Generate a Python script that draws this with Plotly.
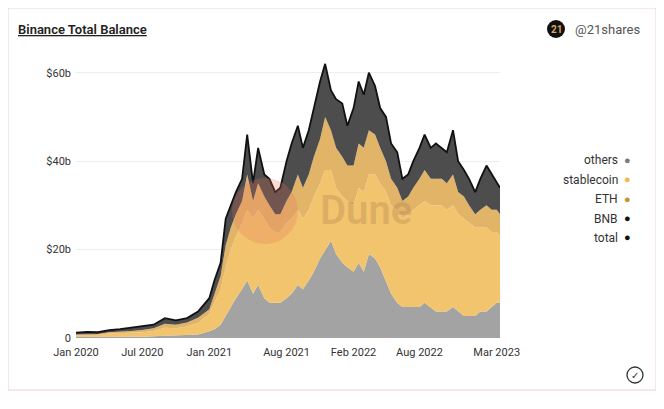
import plotly.graph_objects as go

dates = [f"2020-{m:02d}-01" for m in range(1, 13)]
for y in (2021, 2022):
    for m in range(1, 13):
        dates += [f"{y}-{m:02d}-01", f"{y}-{m:02d}-15"]
dates += ["2023-01-01", "2023-01-15", "2023-02-01", "2023-02-15", "2023-03-01", "2023-03-10"]

others = [.2,.2,.2,.3,.3,.3,.3,.4,.5,.5,.6,.8,
          1.5,2,3,5,7,9,11,13,10,12,9,8,8,8,9,10,12,11,13,15,18,20,22,19,
          17,16,15,17,15,19,18,16,13,10,8,7,7,7,7,8,7,6,6,6,7,6,5,5,
          5,6,6,7,8,8]
stablecoin = [.4,.5,.5,.7,.8,.9,1.0,1.2,1.8,1.7,2.0,2.6,
              4,6,8,11,13,14,15,16,17,17,18,17,16,16,17,17,17,16,16,17,17,18,16,15,
              15,15,15,17,18,18,19,19,20,20,21,20,21,22,23,23,23,24,24,23,23,22,22,21,
              20,19,19,17,16,15]
eth = [.2,.2,.2,.3,.3,.4,.5,.6,.9,.8,.9,1.2,
       1,2,3,5,5,5,5,8,4,6,5,5,4,4,5,6,8,7,8,9,10,12,9,9,
       9,8,9,10,10,10,9,8,7,6,5,4,4,5,6,7,6,6,6,6,7,5,5,4,
       3,4,5,5,5,5]
bnb = [.4,.5,.4,.5,.6,.7,.8,.8,1.3,1.0,1.0,1.4,
       2.5,3,3,6,5,5,5,9,4,8,5,6,5,6,9,11,11,9,10,11,13,12,9,11,
       12,9,13,14,12,13,11,9,10,8,8,5,5,6,7,8,7,8,7,7,10,7,6,6,
       5,7,9,8,6,6]
total = [o + s + e + b for o, s, e, b in zip(others, stablecoin, eth, bnb)]

tick_vals = ["2020-01-01", "2020-07-01", "2021-01-01", "2021-08-01", "2022-02-01", "2022-08-01", "2023-03-01"]
tick_text = ["Jan 2020", "Jul 2020", "Jan 2021", "Aug 2021", "Feb 2022", "Aug 2022", "Mar 2023"]

# page has 8px body margin; work in screenshot pixels
OFF = 8
L, T, W, H = 76, 55, 424, 283
def px(x): return (x - L) / W
def py(y): return (T + H - y) / H

fig = go.Figure()
for name, vals, col in [("others", others, "#a3a3a3"), ("stablecoin", stablecoin, "#f2c46e"),
                        ("ETH", eth, "#e2b468"), ("BNB", bnb, "#4d4d4d")]:
    fig.add_trace(go.Scatter(x=dates, y=vals, name=name, stackgroup="one", mode="lines",
                             line=dict(width=0, color=col), fillcolor=col, showlegend=False))
fig.add_trace(go.Scatter(x=dates, y=total, name="total", mode="lines",
                         line=dict(color="#111111", width=1.8), showlegend=False))

F = "Roboto"
fig.update_layout(
    width=664, height=409, paper_bgcolor="white", plot_bgcolor="white",
    margin=dict(l=L - OFF, r=664 - (L - OFF) - W, t=T - OFF, b=409 - (T - OFF) - H),
    font=dict(family=F, size=11, color="#444"),
    xaxis=dict(type="date", range=["2020-01-01", "2023-03-10"], tickvals=tick_vals, ticktext=tick_text,
               showgrid=False, showline=False, ticks="", ticklabelstandoff=6,
               tickfont=dict(size=11, color="#333")),
    yaxis=dict(range=[0, 64], tickvals=[0, 20, 40, 60], ticktext=["0", "$20b", "$40b", "$60b"],
               showgrid=True, gridcolor="#eeeeee", zeroline=False, ticks="", ticklabelstandoff=4,
               tickfont=dict(size=11, color="#333")),
    shapes=[
        dict(type="rect", xref="paper", yref="paper", x0=px(8), x1=px(656),
             y0=py(390), y1=py(8), line=dict(color="#e8d0d0", width=1), layer="below"),
        dict(type="circle", xref="paper", yref="paper", x0=px(232), x1=px(298),
             y0=py(244), y1=py(178), fillcolor="rgba(230,110,90,0.25)", line=dict(width=0)),
        dict(type="circle", xref="paper", yref="paper", x0=px(547), x1=px(565),
             y0=py(38), y1=py(20), fillcolor="#111", line=dict(width=0)),
        dict(type="circle", xref="paper", yref="paper", x0=px(627), x1=px(643),
             y0=py(383), y1=py(367), line=dict(color="#333", width=1.3)),
    ],
    annotations=[
        dict(text="<u>Binance Total Balance</u>", xref="paper", yref="paper",
             x=px(16), y=py(29), xanchor="left", yanchor="middle", showarrow=False,
             font=dict(size=13, color="#222", weight=600)),
        dict(text="<b>21</b>", xref="paper", yref="paper", x=px(556), y=py(29), xanchor="center",
             yanchor="middle", showarrow=False, font=dict(size=10, color="#d9a560")),
        dict(text="@21shares", xref="paper", yref="paper", x=px(573), y=py(29),
             xanchor="left", yanchor="middle", showarrow=False, font=dict(size=13, color="#555")),
        dict(text="Dune", xref="paper", yref="paper", x=px(318), y=py(211), xanchor="left",
             yanchor="middle", showarrow=False, font=dict(size=40, color="rgba(150,110,70,0.25)", weight=600)),
        dict(text="✓", xref="paper", yref="paper", x=px(635), y=py(375), xanchor="center",
             yanchor="middle", showarrow=False, font=dict(size=10, color="#333", family="DejaVu Sans")),
    ],
)
for i, (lab, col) in enumerate([("others", "#7a7a7a"), ("stablecoin", "#f2b84a"), ("ETH", "#c8922c"),
                                 ("BNB", "#111"), ("total", "#111")]):
    yy = py(160 + 19.5 * i)
    fig.add_annotation(text=lab, xref="paper", yref="paper", x=px(620), y=yy, xanchor="right",
                       yanchor="middle", showarrow=False, font=dict(size=12, color="#333"))
    fig.add_annotation(text="●", xref="paper", yref="paper", x=px(627), y=yy, xanchor="center",
                       yanchor="middle", showarrow=False, font=dict(size=11, color=col))
fig.write_html("out.html")
